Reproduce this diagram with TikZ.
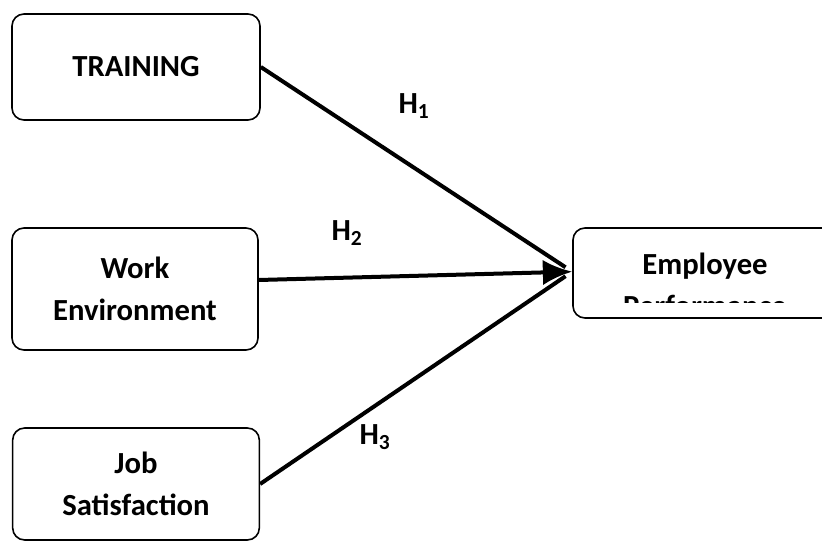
\documentclass[tikz,border=0pt]{standalone}
\usepackage{fontspec}
\setmainfont{Carlito}
\usetikzlibrary{arrows.meta}

\begin{document}
\begin{tikzpicture}[x=0.75pt, y=-0.75pt,
    box/.style={draw, rounded corners=9pt, line width=1.2pt, align=center,
                font=\bfseries\fontsize{23}{32}\selectfont},
    txt/.style={align=center, font=\bfseries\fontsize{23}{32}\selectfont},
    hyp/.style={font=\bfseries\fontsize{23}{28}\selectfont},
    link/.style={line width=3pt},
    arr/.style={-{Latex[length=22pt,width=19pt]}, line width=3pt},
]
\useasboundingbox (0,0) rectangle (822,541);
\clip (0,0) rectangle (822,541);

% ===== Predictors (left) =====
\node[box, minimum width=186pt, minimum height=79.5pt] at (136,67) (train) {TRAINING};
\node[box, minimum width=184.5pt, minimum height=91.5pt] at (135,289) (work) {Work\\Environment};
\node[box, minimum width=185pt, minimum height=84pt] at (136,484) (job) {Job\\Satisfaction};

% ===== Outcome (right, cut off) =====
\node[box, minimum width=240pt, minimum height=67.5pt] at (733,273) (perf) {};
\begin{scope}
  \clip (perf.north west) rectangle (832,302.5);
  \node[txt] at (705,285) (perftxt) {Employee\\Performance};
\end{scope}

% ===== Paths =====
\coordinate (tip) at ([yshift=1pt]perf.west);
\draw[link, shorten >=6pt] (train.east) -- (tip);
\draw[link, shorten >=6pt] (job.east) -- (tip);
\draw[arr] ([yshift=6.75pt]work.east) -- (tip);

% ===== Hypothesis labels =====
\node[hyp] at (414,106) (h1) {H\textsubscript{1}};
\node[hyp] at (347,233) (h2) {H\textsubscript{2}};
\node[hyp] at (375,437) (h3) {H\textsubscript{3}};

\end{tikzpicture}
\end{document}
